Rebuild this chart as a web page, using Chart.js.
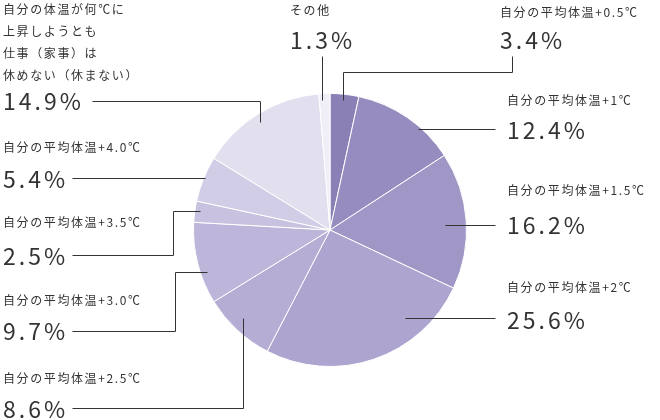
<!DOCTYPE html>
<html><head><meta charset="utf-8">
<script src="https://cdn.jsdelivr.net/npm/chart.js@4/dist/chart.umd.min.js"></script>
<style>html,body{margin:0;padding:0;background:#fff}</style>
</head><body>
<canvas id="c" width="660" height="420" style="width:660px;height:420px"></canvas>
<script>
const categories = ["自分の平均体温+0.5℃","自分の平均体温+1℃","自分の平均体温+1.5℃","自分の平均体温+2℃","自分の平均体温+2.5℃","自分の平均体温+3.0℃","自分の平均体温+3.5℃","自分の平均体温+4.0℃","自分の体温が何℃に\n上昇しようとも\n仕事（家事）は\n休めない（休まない）","その他"];
const values = [3.4,12.4,16.2,25.6,8.6,9.7,2.5,5.4,14.9,1.3];
const colors = ["#8b80b6","#968cc0","#a197c7","#ada5cf","#b5add4","#bdb6da","#c8c2e0","#d2cde6","#e2dfee","#f0eef6"];
const layout = [
 {x:500,ty:12,py:40,pts:[[512,56],[512,72],[343,72],[343,100]]},
 {x:507,ty:100,py:130,pts:[[495,129],[418,129]]},
 {x:507,ty:190,py:225,pts:[[495,225],[445,225]]},
 {x:507,ty:287,py:320,pts:[[495,318],[405,318]]},
 {x:3,ty:378,py:409,pts:[[72,408],[243,408],[243,318]]},
 {x:3,ty:300,py:331,pts:[[72,331],[175,331],[175,272],[207,272]]},
 {x:3,ty:222,py:256,pts:[[72,255],[173,255],[173,211],[200,211]]},
 {x:3,ty:147,py:179,pts:[[72,178],[205,178]]},
 {x:3,ty:9,py:101,pts:[[92,101],[260,101],[260,122]]},
 {x:290,ty:10,py:40,pts:[[322,56],[322,100]]}
];
const labelPlugin = {
 id:'callouts',
 afterDraw(chart){
  const ctx=chart.ctx;
  ctx.save();
  ctx.fillStyle='#333';ctx.strokeStyle='#333';ctx.lineWidth=1;
  chart.getDatasetMeta(0).data.forEach((arc,i)=>{
   const L=layout[i];
   ctx.textBaseline='middle';ctx.textAlign='left';
   ctx.font='400 12px "Noto Sans CJK JP"';
   if(ctx.letterSpacing!==undefined) ctx.letterSpacing='1.6px';
   const lines=categories[i].split('\n');
   lines.forEach((t,k)=>ctx.fillText(t,L.x,L.ty+k*22));
   ctx.font='400 23px "Noto Sans CJK JP"';
   if(ctx.letterSpacing!==undefined) ctx.letterSpacing='3px';
   ctx.fillText(values[i].toFixed(1)+'%',L.x,L.py);
   if(ctx.letterSpacing!==undefined) ctx.letterSpacing='0px';
   ctx.beginPath();
   L.pts.forEach((p,k)=>k?ctx.lineTo(p[0]+.5,p[1]+.5):ctx.moveTo(p[0]+.5,p[1]+.5));
   ctx.stroke();
  });
  ctx.restore();
 }
};
new Chart(document.getElementById('c'),{
 type:'pie',
 data:{labels:categories,datasets:[{data:values,backgroundColor:colors,borderColor:'#fff',borderWidth:1}]},
 options:{responsive:false,animation:false,
  layout:{padding:{top:93,bottom:53,left:0,right:0}},
  plugins:{legend:{display:false},tooltip:{enabled:false}}},
 plugins:[labelPlugin]
});
</script>
</body></html>
